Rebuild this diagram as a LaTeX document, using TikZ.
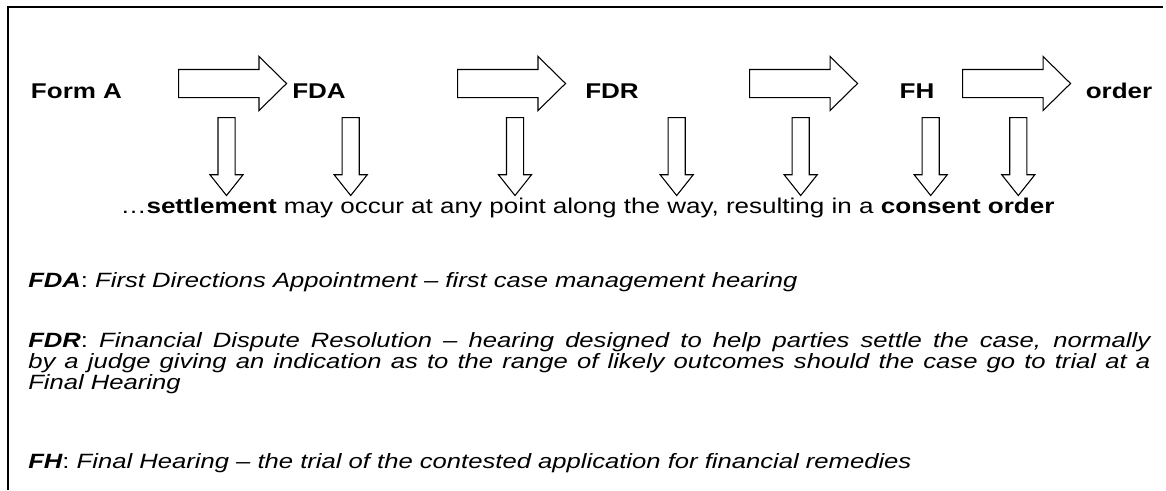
\documentclass[tikz,border=0pt]{standalone}
\usepackage{fontspec}
\setmainfont{Liberation Sans}
\newfontfamily\stagefont{Liberation Sans}[FakeStretch=1.22]
\newfontfamily\notefont{Liberation Sans}[FakeStretch=1.24]
\usetikzlibrary{shapes.arrows,positioning}
\newlength{\notewidth}
\setlength{\notewidth}{841.5pt}

\begin{document}
\begin{tikzpicture}[
  x=0.75pt, y=-0.75pt,
  stage/.style={font=\stagefont\fontsize{16}{19}\selectfont\bfseries, inner sep=0pt, anchor=base},
  flow/.style={draw, line width=0.8pt, single arrow, anchor=tail, inner xsep=0pt, inner ysep=10.125pt,
    minimum height=81pt, minimum width=39.75pt, single arrow head extend=9.75pt, single arrow tip angle=89},
  drop/.style={draw, line width=0.8pt, single arrow, rotate=-90, anchor=tail, inner xsep=0pt, inner ysep=6pt,
    minimum height=58.5pt, minimum width=24pt, single arrow head extend=6pt, single arrow tip angle=77},
  note/.style={font=\notefont\fontsize{15.5}{18}\selectfont\itshape, inner sep=0pt, anchor=base west}]

  \useasboundingbox (0,0) rectangle (1166,490);
  \draw[line width=1.5pt] (8,490) |- (1163,7);

  % stages
  \node[stage] (forma) at (76.5,98) {Form A};
  \node[stage] (fda) at (319,98) {FDA};
  \node[stage] (fdr) at (612,98) {FDR};
  \node[stage] (fh) at (917,98) {FH};
  \node[stage] (order) at (1119,98) {order};

  \node[flow] (go1) at (178,83.5) {};
  \node[flow] (go2) at (457,83.5) {};
  \node[flow] (go3) at (749,83.5) {};
  \node[flow] (go4) at (962,83.5) {};

  % settlement
  \foreach \x [count=\i] in {226.5,350.7,515,676.7,800.7,930.7,1018.3}
    \node[drop] (drop\i) at (\x,117) {};
  \node[stage, font=\stagefont\fontsize{16}{19}\selectfont] (settle) at (587.5,213)
    {…\textbf{settlement} may occur at any point along the way, resulting in a \textbf{consent order}};

  % glossary
  \node[note] (fdanote) at (28,287) {\textbf{FDA}\upshape:\itshape{} First Directions Appointment – first case management hearing};
  \node[note] (fdrnote1) at (28,347) {\makebox[\notewidth][s]{\textbf{FDR}\upshape:\itshape{} Financial Dispute Resolution – hearing designed to help parties settle the case, normally}};
  \node[note] (fdrnote2) at (28,368) {\makebox[\notewidth][s]{by a judge giving an indication as to the range of likely outcomes should the case go to trial at a}};
  \node[note] (fdrnote3) at (28,389) {Final Hearing};
  \node[note] (fhnote) at (28,468) {\textbf{FH}\upshape:\itshape{} Final Hearing – the trial of the contested application for financial remedies};
\end{tikzpicture}
\end{document}
